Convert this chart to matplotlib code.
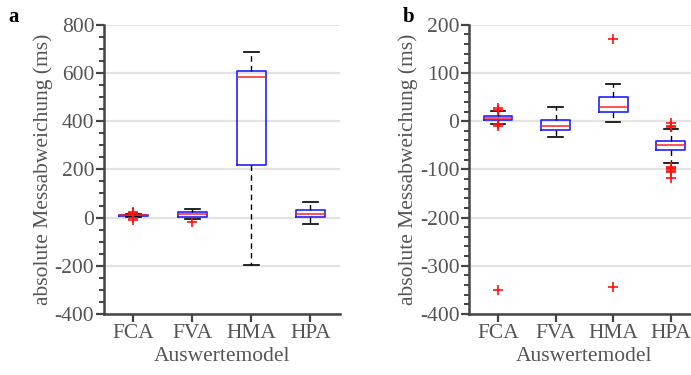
import numpy as np
import matplotlib
matplotlib.use("Agg")
import matplotlib.pyplot as plt
from matplotlib.ticker import MultipleLocator

plt.rcParams['font.family'] = ['Liberation Serif', 'DejaVu Serif']
plt.rcParams['axes.unicode_minus'] = False

models = ["FCA", "FVA", "HMA", "HPA"]

# panel a (ms)
a_med = [9, 13, 582, 16]
a_q1 = [6, 4, 217, 3]
a_q3 = [12, 22, 609, 33]
a_lo = [2, -7, -197, -28]
a_hi = [16, 35, 685, 65]
a_fliers = [[25, 20, 18, -2, -10], [-17], [], []]

# panel b (ms)
b_med = [6.5, -10, 30, -50]
b_q1 = [1.7, -18, 18, -60]
b_q3 = [10.5, 2, 50, -42]
b_lo = [-6, -33, -1, -86]
b_hi = [22, 30, 78, -17]
b_fliers = [[28, 24, -5, -9, -350], [], [170, -345],
            [-3, -10, -13, -95, -98, -100, -103, -106, -118]]


def make_stats(med, q1, q3, lo, hi, fl):
    st = []
    for i in range(len(models)):
        st.append(dict(med=med[i], q1=q1[i], q3=q3[i], whislo=lo[i],
                       whishi=hi[i], fliers=np.array(fl[i]), label=models[i]))
    return st


fig = plt.figure(figsize=(6.91, 3.75), dpi=100)
ax1 = fig.add_axes([0.1505, 0.1627, 0.3415, 0.7713])
ax2 = fig.add_axes([0.6790, 0.1627, 0.3335, 0.7713])

gray = "#555555"
fs = 15.5
for ax, st, ylim, major, minor, letter, lx in [
        (ax1, make_stats(a_med, a_q1, a_q3, a_lo, a_hi, a_fliers), (-400, 800), 200, 50, "a", 0.012),
        (ax2, make_stats(b_med, b_q1, b_q3, b_lo, b_hi, b_fliers), (-400, 200), 100, 20, "b", 0.583)]:
    ax.bxp(st, widths=0.5, showfliers=True,
           boxprops=dict(color="#2020ff", linewidth=1.2),
           medianprops=dict(color="#ff2020", linewidth=1.1),
           whiskerprops=dict(color="black", linewidth=1.0, linestyle=(0, (4, 3))),
           capprops=dict(color="black", linewidth=1.2),
           flierprops=dict(marker="+", markeredgecolor="#ff1010", markersize=7,
                           markeredgewidth=1.2, linestyle="none"))
    ax.set_xlim(0.5, 4.5)
    ax.set_ylim(*ylim)
    ax.yaxis.set_major_locator(MultipleLocator(major))
    ax.yaxis.set_minor_locator(MultipleLocator(minor))
    ax.grid(axis="y", color="#e3e3e3", linewidth=1.6)
    ax.set_axisbelow(True)
    for s in ["top", "right"]:
        ax.spines[s].set_visible(False)
    for s in ["left", "bottom"]:
        ax.spines[s].set_color("#444444")
        ax.spines[s].set_linewidth(1.8)
    ax.tick_params(which="major", length=6, width=1.6, color="#444444",
                   labelsize=fs, labelcolor=gray, pad=1)
    ax.tick_params(which="minor", length=3.5, width=1.4, color="#444444")
    ax.tick_params(axis="x", which="minor", bottom=False)
    ax.set_xticks([1, 2, 3, 4])
    ax.set_xticklabels(models)
    ax.set_xlabel("Auswertemodel", fontsize=fs, color=gray, labelpad=3)
    ax.set_ylabel("absolute Messabweichung (ms)", fontsize=fs, color=gray, labelpad=1)
    fig.text(lx, 0.955, letter, fontsize=15, fontweight="bold", va="center")

plt.savefig("out.png", dpi=100)
